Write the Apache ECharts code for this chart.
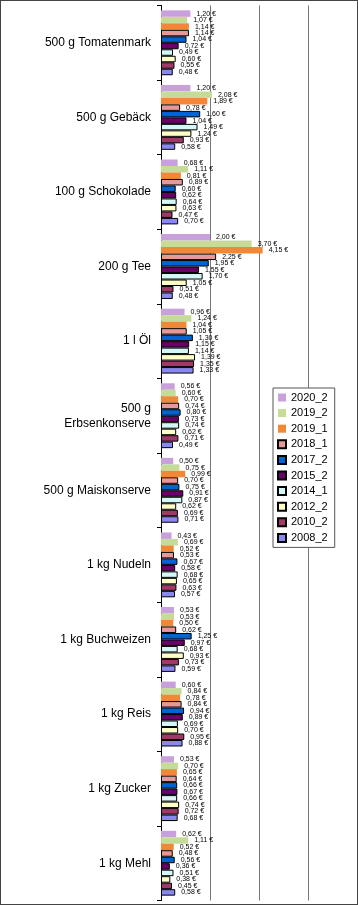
<!DOCTYPE html>
<html><head><meta charset="utf-8">
<script src="https://cdn.jsdelivr.net/npm/echarts@6/dist/echarts.min.js"></script>
<style>html,body{margin:0;padding:0;background:#fff}#c{width:358px;height:905px;box-sizing:border-box;border:1px solid #444}</style>
</head><body><div id="c"></div>
<script>
const categories = ["500 g Tomatenmark","500 g Gebäck","100 g Schokolade","200 g Tee","1 l Öl","500 g\nErbsenkonserve","500 g Maiskonserve","1 kg Nudeln","1 kg Buchweizen","1 kg Reis","1 kg Zucker","1 kg Mehl"];
const seriesNames = ["2020_2","2019_2","2019_1","2018_1","2017_2","2015_2","2014_1","2012_2","2010_2","2008_2"];
const v2020_2 = [1.20,1.20,0.68,2.00,0.96,0.56,0.50,0.43,0.53,0.60,0.53,0.62];
const v2019_2 = [1.07,2.08,1.11,3.70,1.24,0.60,0.75,0.69,0.53,0.84,0.70,1.11];
const v2019_1 = [1.14,1.89,0.81,4.15,1.04,0.70,0.99,0.52,0.50,0.78,0.65,0.52];
const v2018_1 = [1.14,0.78,0.89,2.25,1.05,0.74,0.70,0.53,0.62,0.84,0.64,0.48];
const v2017_2 = [1.04,1.60,0.60,1.95,1.30,0.80,0.75,0.67,1.25,0.94,0.66,0.56];
const v2015_2 = [0.72,1.04,0.62,1.55,1.15,0.73,0.91,0.58,0.97,0.89,0.67,0.36];
const v2014_1 = [0.49,1.49,0.64,1.70,1.14,0.74,0.87,0.68,0.68,0.69,0.66,0.51];
const v2012_2 = [0.60,1.24,0.63,1.05,1.39,0.62,0.62,0.65,0.93,0.70,0.74,0.38];
const v2010_2 = [0.55,0.93,0.47,0.51,1.35,0.71,0.69,0.63,0.73,0.95,0.72,0.45];
const v2008_2 = [0.48,0.58,0.70,0.48,1.33,0.49,0.71,0.57,0.59,0.88,0.68,0.58];
const valueTicks = [0,2,4,6,8];

const values = [v2020_2,v2019_2,v2019_1,v2018_1,v2017_2,v2015_2,v2014_1,v2012_2,v2010_2,v2008_2];
const colors = ["#c8a0dc","#c4dc98","#f08838","#e89898","#0064d2","#680068","#d4f8f8","#ffffc8","#a03868","#8888f0"];
const borders = [null,null,null,"#000","#000","#000","#000","#000","#000","#000"];

const chart = echarts.init(document.getElementById('c'));
chart.setOption({
  animation:false,
  textStyle:{fontFamily:'Liberation Sans, Arial, sans-serif'},
  legend:{
    data:seriesNames, orient:'vertical', left:272, top:387,
    itemWidth:8, itemHeight:8, itemGap:4.6,
    textStyle:{fontSize:11,color:'#000',fontFamily:'Liberation Sans, Arial'},
    borderColor:'#555', borderWidth:1, padding:[4,7,4,4], backgroundColor:'#fff',
    icon:'rect'
  },
  grid:{left:160,top:4.5,bottom:3.5,right:-1,containLabel:false},
  xAxis:{type:'value',min:valueTicks[0],max:valueTicks[valueTicks.length-1],interval:2,
    axisLabel:{show:false},axisLine:{show:false},axisTick:{show:false},
    splitLine:{show:true,lineStyle:{color:'#777',width:1}}},
  yAxis:{type:'category',data:categories,inverse:true,
    axisLine:{lineStyle:{color:'#000'}},
    axisTick:{show:true,length:4,lineStyle:{color:'#000'}},
    axisLabel:{fontSize:12,color:'#000',margin:10,lineHeight:15,fontFamily:'Liberation Sans, Arial'}},
  series: seriesNames.map((n,i)=>({
    name:n,type:'bar',data:values[i],
    barGap:'0%',barCategoryGap:'13%',
    itemStyle:{color:colors[i],borderColor:borders[i]||colors[i],borderWidth:borders[i]?1:0},
    label:{show:true,position:'right',distance:6,fontSize:7,color:'#000',
      formatter:p=>p.value.toFixed(2).replace('.',',')+' €'}
  }))
});
</script></body></html>
